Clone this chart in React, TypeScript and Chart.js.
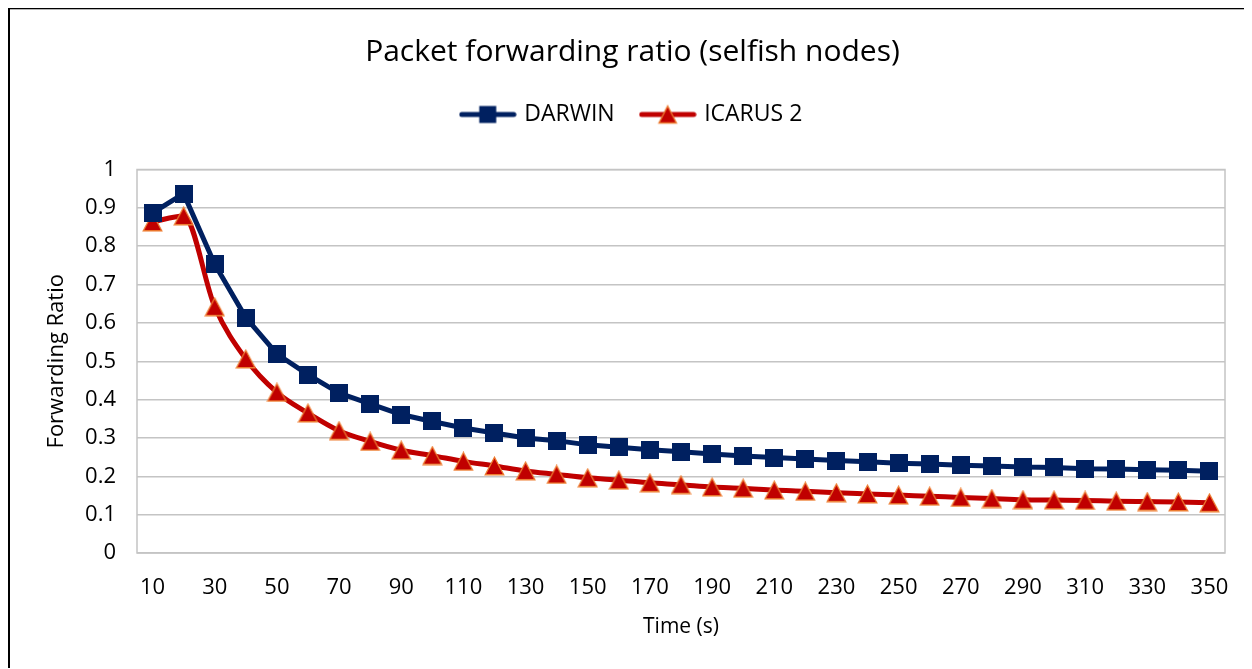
import React, { useEffect, useRef } from 'react';
import { Chart, registerables } from 'chart.js';

Chart.register(...registerables);

const titleText = 'Packet forwarding ratio (selfish nodes)';
const xTitle = 'Time (s)';
const yTitle = 'Forwarding Ratio';

const categories = [
  '10', '20', '30', '40', '50', '60', '70', '80', '90', '100',
  '110', '120', '130', '140', '150', '160', '170', '180', '190', '200',
  '210', '220', '230', '240', '250', '260', '270', '280', '290', '300',
  '310', '320', '330', '340', '350',
];

const darwin = [
  0.887, 0.937, 0.753, 0.614, 0.519, 0.465, 0.417, 0.389, 0.361, 0.343,
  0.326, 0.313, 0.300, 0.293, 0.282, 0.276, 0.269, 0.264, 0.258, 0.253,
  0.249, 0.245, 0.241, 0.238, 0.234, 0.232, 0.229, 0.227, 0.224, 0.223,
  0.220, 0.219, 0.217, 0.216, 0.213,
];

const icarus2 = [
  0.863, 0.879, 0.642, 0.506, 0.419, 0.365, 0.319, 0.291, 0.268, 0.254,
  0.239, 0.227, 0.214, 0.205, 0.196, 0.190, 0.183, 0.178, 0.172, 0.169,
  0.164, 0.161, 0.157, 0.154, 0.151, 0.148, 0.145, 0.142, 0.139, 0.138,
  0.137, 0.135, 0.134, 0.133, 0.131,
];

const seriesNames = ['DARWIN', 'ICARUS 2'];

const NAVY = '#002060';
const RED = '#C00000';
const ORANGE = '#ED7D31';
const GRID = '#c4c4c4';
const FONT = "'Open Sans', sans-serif";

function drawSquare(ctx: CanvasRenderingContext2D, cx: number, cy: number, s: number) {
  ctx.fillStyle = NAVY;
  ctx.fillRect(cx - s / 2, cy - s / 2, s, s);
}

function drawTriangle(ctx: CanvasRenderingContext2D, cx: number, cy: number, w: number, h: number) {
  ctx.beginPath();
  ctx.moveTo(cx, cy - h / 2);
  ctx.lineTo(cx + w / 2, cy + h / 2);
  ctx.lineTo(cx - w / 2, cy + h / 2);
  ctx.closePath();
  ctx.fillStyle = RED;
  ctx.fill();
  ctx.lineWidth = 1.3;
  ctx.strokeStyle = ORANGE;
  ctx.stroke();
}

function makeSquareImg() {
  const c = document.createElement('canvas');
  c.width = 18;
  c.height = 18;
  const ctx = c.getContext('2d')!;
  drawSquare(ctx, 9, 9, 18);
  return c;
}

function makeTriangleImg() {
  const c = document.createElement('canvas');
  c.width = 21;
  c.height = 20;
  const ctx = c.getContext('2d')!;
  drawTriangle(ctx, 10.5, 10, 18.5, 17.5);
  return c;
}

function makeLegendIcon(kind: 'square' | 'triangle') {
  const c = document.createElement('canvas');
  c.width = 58;
  c.height = 22;
  const ctx = c.getContext('2d')!;
  ctx.lineCap = 'round';
  ctx.lineWidth = 5;
  ctx.strokeStyle = kind === 'square' ? NAVY : RED;
  ctx.beginPath();
  ctx.moveTo(3, 11);
  ctx.lineTo(55, 11);
  ctx.stroke();
  if (kind === 'square') drawSquare(ctx, 29, 11, 17);
  else drawTriangle(ctx, 29, 11, 17.5, 17);
  return c;
}

const plotBorder = {
  id: 'plotBorder',
  beforeDatasetsDraw(chart: any) {
    const { ctx, chartArea } = chart;
    ctx.save();
    ctx.strokeStyle = GRID;
    ctx.lineWidth = 1.5;
    ctx.strokeRect(chartArea.left, chartArea.top, chartArea.right - chartArea.left, chartArea.bottom - chartArea.top);
    ctx.restore();
  },
};

const legendGap = {
  id: 'legendGap',
  beforeLayout(chart: any) {
    const lg = chart.legend;
    if (lg && !lg.__patched) {
      const orig = lg.fit;
      lg.fit = function () {
        orig.call(this);
        this.height += 33.5;
      };
      lg.__patched = true;
    }
  },
};

export default function App() {
  const ref = useRef<HTMLCanvasElement>(null);

  useEffect(() => {
    if (!ref.current) return;
    const sq = makeSquareImg();
    const tri = makeTriangleImg();
    const legendIcons = [makeLegendIcon('square'), makeLegendIcon('triangle')];

    const chart = new Chart(ref.current, {
      type: 'line',
      data: {
        labels: categories,
        datasets: [
          {
            label: seriesNames[0],
            data: darwin,
            borderColor: NAVY,
            backgroundColor: NAVY,
            borderWidth: 5,
            tension: 0,
            pointStyle: sq as any,
            pointRadius: 9,
          },
          {
            label: seriesNames[1],
            data: icarus2,
            borderColor: RED,
            backgroundColor: RED,
            borderWidth: 5,
            cubicInterpolationMode: 'monotone',
            pointStyle: tri as any,
            pointRadius: 9,
          },
        ],
      },
      options: {
        responsive: false,
        animation: false,
        layout: { padding: { left: 30, right: 27, top: 0, bottom: 0 } },
        plugins: {
          title: {
            display: true,
            text: titleText,
            color: '#000',
            font: { family: FONT, size: 30, weight: 'normal' as any },
            padding: { top: 24, bottom: 5 },
          },
          legend: {
            display: true,
            position: 'top',
            labels: {
              color: '#000',
              font: { family: FONT, size: 23 },
              usePointStyle: true,
              pointStyleWidth: 50,
              padding: 28,
              generateLabels: (ch: any) => {
                const items = Chart.defaults.plugins.legend.labels.generateLabels(ch);
                return items.map((it: any, i: number) => ({ ...it, pointStyle: legendIcons[i] }));
              },
            },
          },
          tooltip: { enabled: false },
        },
        scales: {
          x: {
            offset: true,
            grid: { display: false, drawTicks: false },
            border: { display: false },
            ticks: {
              color: '#000',
              font: { family: FONT, size: 22 },
              padding: 22,
              autoSkip: false,
              maxRotation: 0,
              callback: (_v: any, i: number) => (i % 2 === 0 ? categories[i] : ''),
            },
            title: {
              display: true,
              text: xTitle,
              color: '#000',
              font: { family: FONT, size: 21 },
              padding: { top: 0, bottom: 29 },
            },
            afterFit: (s: any) => {
              s.height = 116;
            },
          },
          y: {
            min: 0,
            max: 1,
            grid: { color: GRID, lineWidth: 1.5, drawTicks: false },
            border: { display: false },
            ticks: {
              stepSize: 0.1,
              color: '#000',
              font: { family: FONT, size: 22 },
              padding: 21,
              callback: (v: any) => String(Number(Number(v).toFixed(1))),
            },
            title: {
              display: true,
              text: yTitle,
              color: '#000',
              font: { family: FONT, size: 22 },
              padding: { top: 4, bottom: 0 },
            },
            afterFit: (s: any) => {
              s.width = 97;
            },
          },
        },
      },
      plugins: [plotBorder, legendGap],
    });
    return () => chart.destroy();
  }, []);

  return (
    <div
      style={{
        width: 1242,
        height: 659,
        borderTop: '1px solid #000',
        borderLeft: '2px solid #000',
        overflow: 'hidden',
      }}
    >
      <div style={{ borderTop: '1px solid #b5b5b5', height: 659 }}>
        <canvas ref={ref} width={1242} height={659} style={{ display: 'block' }} />
      </div>
    </div>
  );
}
